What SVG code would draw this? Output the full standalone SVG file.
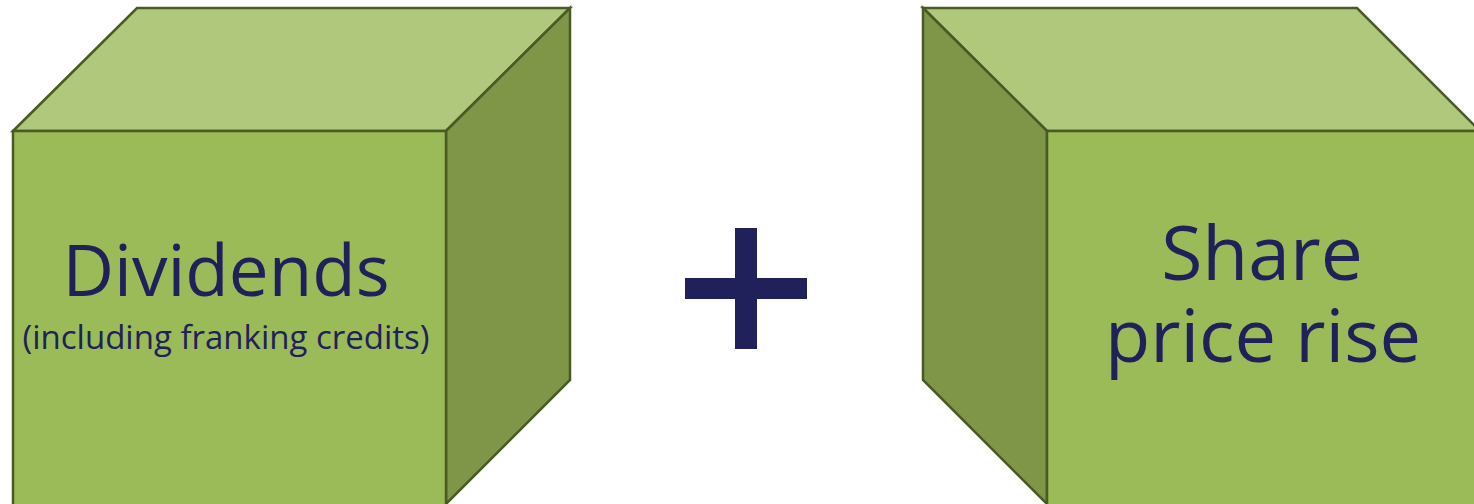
<svg xmlns="http://www.w3.org/2000/svg" width="1474" height="504" viewBox="0 0 1474 504">
<style>
.top{fill:#B0C87C;stroke:#4A5A24;stroke-width:2.5;stroke-linejoin:miter}
.front{fill:#9BBB59;stroke:#4A5A24;stroke-width:2.5}
.side{fill:#7F9649;stroke:#4A5A24;stroke-width:2.5}
.t{font-family:"Open Sans","Liberation Sans",sans-serif;fill:#20215A;text-anchor:middle}
</style>
<rect width="1474" height="504" fill="#FFFFFF"/>
<g id="dividends">
<polygon class="top" points="13,131 137,8 570,8 446,131"/>
<polygon class="side" points="446,131 570,8 570,380 446,504"/>
<rect class="front" x="13" y="131" width="433" height="375"/>
<text class="t" x="226" y="296" font-size="71">Dividends</text>
<text class="t" x="226" y="349" font-size="33">(including franking credits)</text>
</g>
<g id="plus">
<rect x="685" y="278" width="122" height="21" fill="#20215A"/>
<rect x="735" y="228" width="22" height="121" fill="#20215A"/>
</g>
<g id="share">
<polygon class="top" points="923,8 1357,8 1480,131 1047,131"/>
<polygon class="side" points="923,8 1047,131 1047,504 923,380"/>
<rect class="front" x="1047" y="131" width="440" height="375"/>
<text class="t" x="1262" y="280" font-size="75">Share</text>
<text class="t" x="1263" y="362" font-size="74">price rise</text>
</g>
<g id="connectors"/>
</svg>
